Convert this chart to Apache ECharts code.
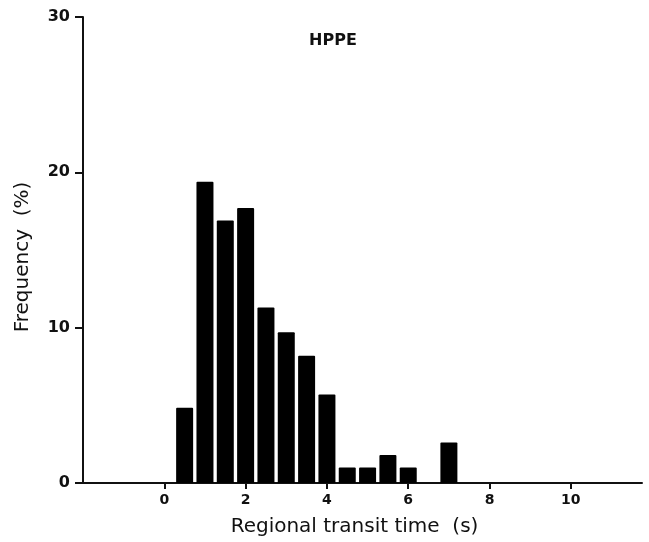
<!DOCTYPE html>
<html>
<head>
<meta charset="utf-8">
<script src="https://cdn.jsdelivr.net/npm/echarts@6/dist/echarts.min.js"></script>
<style>
  html, body { margin: 0; padding: 0; background: #fff; }
  #main { width: 649px; height: 542px; }
</style>
</head>
<body>
<div id="main"></div>
<script>
// bin centres (s) and frequencies (%)
const binCenters = [0.5, 1.0, 1.5, 2.0, 2.5, 3.0, 3.5, 4.0, 4.5, 5.0, 5.5, 6.0, 7.0];
const frequencies = [4.85, 19.4, 16.9, 17.7, 11.3, 9.7, 8.2, 5.7, 1.0, 1.0, 1.8, 1.0, 2.6];
const xTicks = [0, 2, 4, 6, 8, 10];
const yTicks = [0, 10, 20, 30];

const chart = echarts.init(document.getElementById('main'));

const font = 'DejaVu Sans';

const option = {
  animation: false,
  backgroundColor: '#fff',
  title: {
    text: 'HPPE',
    left: 328,
    top: 28,
    textAlign: 'center',
    textStyle: { fontFamily: font, fontWeight: 'bold', fontSize: 16, color: '#111' }
  },
  grid: { left: 83, right: 7, top: 17, bottom: 55 },
  xAxis: {
    type: 'value',
    min: -2,
    max: 11.75,
    name: 'Regional transit time  (s)',
    nameLocation: 'middle',
    nameGap: 34,
    nameTextStyle: { fontFamily: font, fontSize: 20, color: '#111', padding: [0, 16, 0, 0] },
    axisLine: { lineStyle: { color: '#111', width: 2 } },
    axisTick: { customValues: xTicks, length: 6, lineStyle: { color: '#111', width: 2 } },
    axisLabel: {
      customValues: xTicks,
      margin: 10,
      fontFamily: font, fontWeight: 'bold', fontSize: 14, color: '#111'
    },
    splitLine: { show: false }
  },
  yAxis: {
    type: 'value',
    min: 0,
    max: 30,
    interval: 10,
    name: 'Frequency  (%)',
    nameLocation: 'middle',
    nameGap: 50,
    nameRotate: 90,
    nameTextStyle: { fontFamily: font, fontSize: 20, color: '#111', padding: [0, 14, 0, 0] },
    axisLine: { show: true, onZero: false, lineStyle: { color: '#111', width: 2 } },
    axisTick: { show: true, length: 8, lineStyle: { color: '#111', width: 2 } },
    axisLabel: {
      customValues: yTicks,
      margin: 13,
      fontFamily: font, fontWeight: 'bold', fontSize: 16, color: '#111'
    },
    splitLine: { show: false }
  },
  series: [{
    type: 'bar',
    data: binCenters.map((x, i) => [x, frequencies[i]]),
    barWidth: 17,
    itemStyle: { color: '#000', borderRadius: [1, 1, 0, 0] }
  }]
};

chart.setOption(option);
</script>
</body>
</html>
